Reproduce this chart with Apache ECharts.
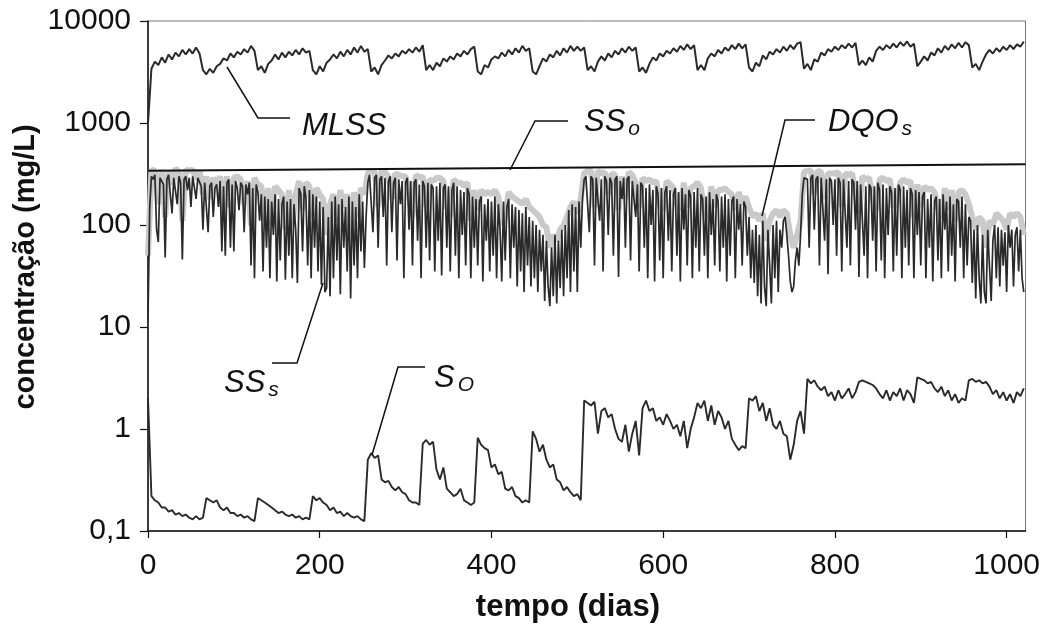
<!DOCTYPE html>
<html>
<head>
<meta charset="utf-8">
<script src="https://cdn.jsdelivr.net/npm/echarts@6/dist/echarts.min.js"></script>
<style>
html,body{margin:0;padding:0;background:#fff;}
#c{width:1043px;height:628px;}
</style>
</head>
<body>
<div id="c"></div>
<script>
// x tick labels and y tick labels
const xTicks = [0, 200, 400, 600, 800, 1000];
const yTicks = ['0,1', '1', '10', '100', '1000', '10000'];

// MLSS (mg/L), one value every 4 days from day 0
const mlssStep = 4;
const mlssVals = [
 1000,3400,4000,3700,4400,3900,4700,4200,4900,4500,5200,4700,5300,4800,5500,4800,3300,3000,3400,3100,3600,3800,4300,4100,4800,
 4400,5000,4700,5300,4900,5700,5100,3300,3600,3100,3800,4100,4700,4200,4900,4400,5000,4600,5200,4700,5400,4900,5100,3300,3000,
 3600,3200,3900,4200,4700,4300,5000,4500,5200,4700,5500,4900,5700,5000,5300,3200,3500,3000,3700,4100,4600,4300,4800,4500,5100,
 4800,5300,4900,5500,5000,5800,3300,3700,3300,3900,3600,4300,4000,4500,4200,4800,4500,5100,4700,5300,5600,3200,3000,3700,3500,
 4200,4500,4300,4900,4500,5200,4700,5400,4900,5700,5100,5400,3200,3000,3600,4300,4000,4700,4400,5100,4600,5400,4900,5700,5100,
 5600,5100,5500,3300,3600,3200,4000,4500,4100,4800,4400,5100,4700,5400,4900,5600,5100,5500,3200,3500,3100,3800,4400,4100,4800,
 4500,5100,4800,5400,5000,5700,5200,5900,5300,5800,3300,3700,3300,4300,4800,4500,5200,4800,5500,5100,5800,5300,6000,5400,5900,
 3500,3200,3900,3600,4600,4200,5000,4700,5300,4900,5600,5100,5800,5300,6000,6200,3400,3800,3300,4200,4000,4900,4600,5300,5000,
 5600,5200,5800,5400,6000,5500,6100,3700,4100,3700,4400,4000,5100,5600,5200,5800,5400,6000,5500,6200,5700,6300,5600,6000,3600,
 4000,4500,4100,4900,4600,5400,4900,5700,5200,5900,5400,6100,5500,6200,5800,3500,3800,3300,4000,4700,5200,4800,5400,5000,5600,
 5200,5800,5300,5900,5600,6300
];

// SSo (mg/L), straight line
const ssoDays = [0, 1022];
const ssoVals = [340, 395];

// DQOs (mg/L), one value every 4 days
const dqoStep = 4;
const dqoVals = [
 50,350,340,160,350,120,340,250,360,330,110,350,340,350,280,340,200,300,180,290,250,300,120,300,150,
 290,300,280,160,270,100,290,250,240,110,230,100,240,220,200,90,220,100,200,270,140,260,240,120,230,
 200,180,80,160,200,110,220,150,200,80,210,120,230,200,320,340,330,150,340,330,300,180,320,310,300,
 300,200,120,310,290,300,150,280,270,290,290,270,150,120,280,260,260,240,260,110,220,140,220,200,210,
 200,220,190,100,120,210,190,180,170,160,180,150,140,130,120,100,95,60,80,70,90,100,120,150,170,
 130,180,320,340,340,150,340,320,330,200,320,310,140,300,180,330,310,260,150,290,270,280,260,270,160,
 140,270,250,230,160,140,260,150,230,240,260,230,140,120,240,150,220,220,230,210,200,140,210,160,190,
 150,120,130,110,130,70,110,130,140,120,140,130,80,60,80,110,330,340,340,200,340,330,180,320,320,
 320,330,150,320,310,320,200,130,300,280,290,180,140,280,290,270,280,150,160,260,280,260,270,120,250,
 150,240,220,230,210,150,120,230,140,220,110,210,220,200,160,120,90,120,110,60,110,100,130,120,110,
 90,130,120,130,120,80
];

// SSs (mg/L), one value every 2 days
const sssStep = 2;
const sssVals = [
 12,150,300,280,310,90,68,290,300,250,48,280,310,200,130,290,300,160,300,260,46,280,300,220,290,
 150,300,310,180,290,300,240,90,260,250,85,240,260,120,230,250,150,270,55,240,50,260,280,60,250,
 55,270,230,140,260,240,85,250,200,260,40,230,30,250,210,110,200,35,190,60,180,30,170,80,200,
 28,180,45,160,190,29,170,50,180,30,160,90,27,230,200,55,240,180,40,220,30,200,60,190,35,
 170,26,150,22,24,120,20,170,30,190,45,160,21,180,60,150,35,190,19,170,40,150,30,200,55,
 170,38,120,260,310,300,85,290,310,60,280,300,120,290,40,270,300,85,260,290,45,280,160,270,30,
 260,290,90,270,40,260,280,70,250,30,270,240,60,260,45,250,230,35,240,70,260,32,230,250,60,
 240,35,220,260,50,240,30,220,80,210,40,230,200,30,190,60,180,40,170,190,28,160,70,180,35,
 170,50,190,30,160,90,28,170,45,150,180,30,160,60,150,25,140,35,130,22,150,40,120,25,110,
 30,100,22,90,35,80,18,70,25,16,60,20,80,17,70,24,90,20,100,30,140,22,160,35,150,
 22,170,60,180,280,300,290,85,300,280,40,290,300,110,280,35,300,270,80,290,260,50,280,300,31,
 270,180,290,60,280,300,45,270,280,120,250,35,260,240,60,230,30,250,100,220,28,240,200,45,230,
 30,210,240,70,220,35,200,230,50,210,28,230,90,200,40,220,190,30,210,60,230,35,200,180,50,
 190,30,210,80,180,40,200,170,35,190,60,200,28,180,50,170,190,30,180,90,160,40,170,150,50,
 120,30,90,27,100,20,80,17,110,25,16,90,40,17,100,30,110,22,90,60,110,120,80,50,28,
 22,25,45,60,40,80,200,290,300,280,60,290,310,90,280,300,40,290,300,70,280,33,290,270,100,
 280,50,290,260,35,280,290,60,270,40,280,260,90,270,31,250,260,50,240,30,250,230,70,240,35,
 260,220,45,250,30,230,80,240,210,35,230,50,250,220,30,240,60,220,40,230,200,30,220,80,210,
 40,190,210,30,180,60,200,28,170,190,45,180,30,200,90,170,35,190,50,160,28,180,170,60,190,
 30,160,40,120,110,27,90,19,100,30,17,80,22,17,90,40,18,70,100,30,95,25,90,40,85,
 22,100,60,90,25,80,95,35,90,30,22
];

// SO (mg/L), one value every 4 days
const soStep = 4;
const soVals = [
 2.0,0.22,0.2,0.19,0.17,0.17,0.155,0.16,0.145,0.15,0.14,0.145,0.135,0.13,0.14,0.13,0.135,0.21,0.2,0.19,0.2,0.17,0.16,0.17,0.15,
 0.15,0.14,0.145,0.135,0.14,0.13,0.125,0.21,0.2,0.19,0.18,0.17,0.16,0.15,0.155,0.145,0.14,0.145,0.135,0.14,0.13,0.135,0.13,0.22,0.2,
 0.21,0.19,0.18,0.16,0.17,0.15,0.155,0.14,0.15,0.14,0.135,0.14,0.13,0.125,0.5,0.58,0.52,0.55,0.32,0.3,0.31,0.27,0.25,0.27,0.24,
 0.23,0.2,0.19,0.19,0.18,0.72,0.78,0.7,0.75,0.4,0.32,0.42,0.26,0.24,0.22,0.23,0.26,0.2,0.19,0.18,0.19,0.82,0.7,0.65,0.62,
 0.42,0.45,0.36,0.38,0.26,0.25,0.27,0.22,0.21,0.19,0.2,0.19,0.95,0.8,0.6,0.7,0.5,0.42,0.45,0.32,0.3,0.25,0.27,0.24,0.22,
 0.23,0.2,1.9,1.8,1.7,1.85,0.9,1.5,1.6,1.3,1.4,1.0,0.8,0.75,1.1,0.6,0.9,1.2,0.55,1.6,1.9,1.5,1.6,1.2,1.3,
 1.1,1.4,1.2,1.0,1.1,0.85,1.2,0.65,1.0,1.3,1.8,1.6,1.9,1.2,1.7,1.1,1.5,1.3,1.0,1.2,0.8,0.7,0.62,0.68,0.65,
 2.0,1.9,2.1,1.5,1.8,1.2,1.6,1.1,1.0,1.2,0.9,0.85,0.5,0.7,1.2,1.5,0.9,3.1,2.8,3.0,2.6,2.4,2.6,2.1,2.3,
 1.9,2.4,2.0,2.2,2.5,2.0,2.3,2.9,3.0,2.9,2.8,2.7,2.5,2.2,2.0,2.4,1.9,2.3,2.1,2.5,1.9,2.4,2.2,1.8,3.2,
 3.1,3.0,2.8,2.9,2.5,2.3,2.6,2.1,2.4,1.9,2.2,1.8,2.0,1.9,3.0,3.1,2.9,3.0,2.8,2.9,2.6,2.2,2.4,2.0,2.3,
 1.9,2.2,1.8,2.3,2.1,2.5
];

function pairs(step, vals){ return vals.map((v,i)=>[i*step, v]); }

const FONT = "'Liberation Sans', Arial, sans-serif";
const INK = '#2a2a2a';

const chart = echarts.init(document.getElementById('c'), null, {renderer:'canvas'});

function annText(x, y, main, sub, subDy){
  return {
    type:'text', left:x, top:y, z:100,
    style:{
      text:'{m|'+main+'}{s|'+sub+'}',
      rich:{
        m:{fontFamily:FONT, fontStyle:'italic', fontSize:31, fill:'#111', padding:[0,3,0,0]},
        s:{fontFamily:FONT, fontStyle:'italic', fontSize:21, fill:'#111', padding:[subDy,0,0,0]}
      }
    }
  };
}
function leader(points){
  return {type:'polyline', z:100, shape:{points:points}, style:{stroke:'#111', lineWidth:1.5, fill:null}};
}

chart.setOption({
  animation:false,
  backgroundColor:'#fff',
  grid:{left:148, right:15, top:21, bottom:97, show:true, borderColor:'#777', borderWidth:1, backgroundColor:'transparent'},
  xAxis:{
    type:'value', min:0, max:1022, interval:200,
    axisLine:{show:true, onZero:false, lineStyle:{color:'#111', width:1.5}},
    axisTick:{show:true, inside:false, length:7, lineStyle:{color:'#111', width:1.2}},
    axisLabel:{fontFamily:FONT, fontSize:30, color:'#111', margin:20,
      formatter:function(v){ return xTicks.indexOf(v)>=0 ? String(v) : ''; },
      showMaxLabel:false},
    splitLine:{show:false}
  },
  yAxis:{
    type:'log', logBase:10, min:0.1, max:10000,
    axisLine:{show:true, lineStyle:{color:'#111', width:1.5}},
    axisTick:{show:true, inside:false, length:8, lineStyle:{color:'#111', width:1.2}},
    axisLabel:{fontFamily:FONT, fontSize:30, color:'#111', margin:17,
      formatter:function(v){
        const e = Math.round(Math.log10(v));
        return yTicks[e+1] !== undefined ? yTicks[e+1] : '';
      }},
    splitLine:{show:false},
    minorTick:{show:false}
  },
  series:[
    {name:'DQOs', type:'line', data:pairs(dqoStep, dqoVals), showSymbol:false, symbol:'none',
     lineStyle:{color:'#cacaca', width:6}, z:1, silent:true},
    {name:'SSs', type:'line', data:pairs(sssStep, sssVals), showSymbol:false, symbol:'none',
     lineStyle:{color:INK, width:1.7}, z:2, silent:true},
    {name:'SSo', type:'line', data:ssoDays.map((d,i)=>[d, ssoVals[i]]), showSymbol:false, symbol:'none',
     lineStyle:{color:'#111', width:2}, z:3, silent:true},
    {name:'MLSS', type:'line', data:pairs(mlssStep, mlssVals), showSymbol:false, symbol:'none',
     lineStyle:{color:INK, width:2}, z:3, silent:true},
    {name:'SO', type:'line', data:pairs(soStep, soVals), showSymbol:false, symbol:'none',
     lineStyle:{color:INK, width:1.9}, z:3, silent:true}
  ],
  graphic:[
    {type:'text', z:100, position:[26,267], rotation:Math.PI/2,
     style:{text:'concentração (mg/L)', fontFamily:FONT, fontWeight:'bold', fontSize:29, fill:'#111',
            align:'center', verticalAlign:'middle', x:0, y:0}},
    {type:'text', z:100, style:{text:'tempo (dias)', fontFamily:FONT, fontWeight:'bold', fontSize:31, fill:'#111',
            align:'center', verticalAlign:'middle', x:568, y:607}},
    leader([[227,67],[258,118],[290,118]]),
    {type:'text', z:100, style:{text:'MLSS', fontFamily:FONT, fontStyle:'italic', fontSize:31, fill:'#111', x:302, y:111}},
    leader([[510,170],[535,121],[568,121]]),
    annText(584, 107, 'SS', 'o', 14),
    leader([[762,216],[785,120],[815,120]]),
    annText(828, 107, 'DQO', 's', 14),
    leader([[272,363],[297,363],[323,283]]),
    annText(224, 368, 'SS', 's', 14),
    leader([[372,455],[398,367],[425,367]]),
    annText(434, 363, 'S', 'O', 14)
  ]
});
</script>
</body>
</html>
